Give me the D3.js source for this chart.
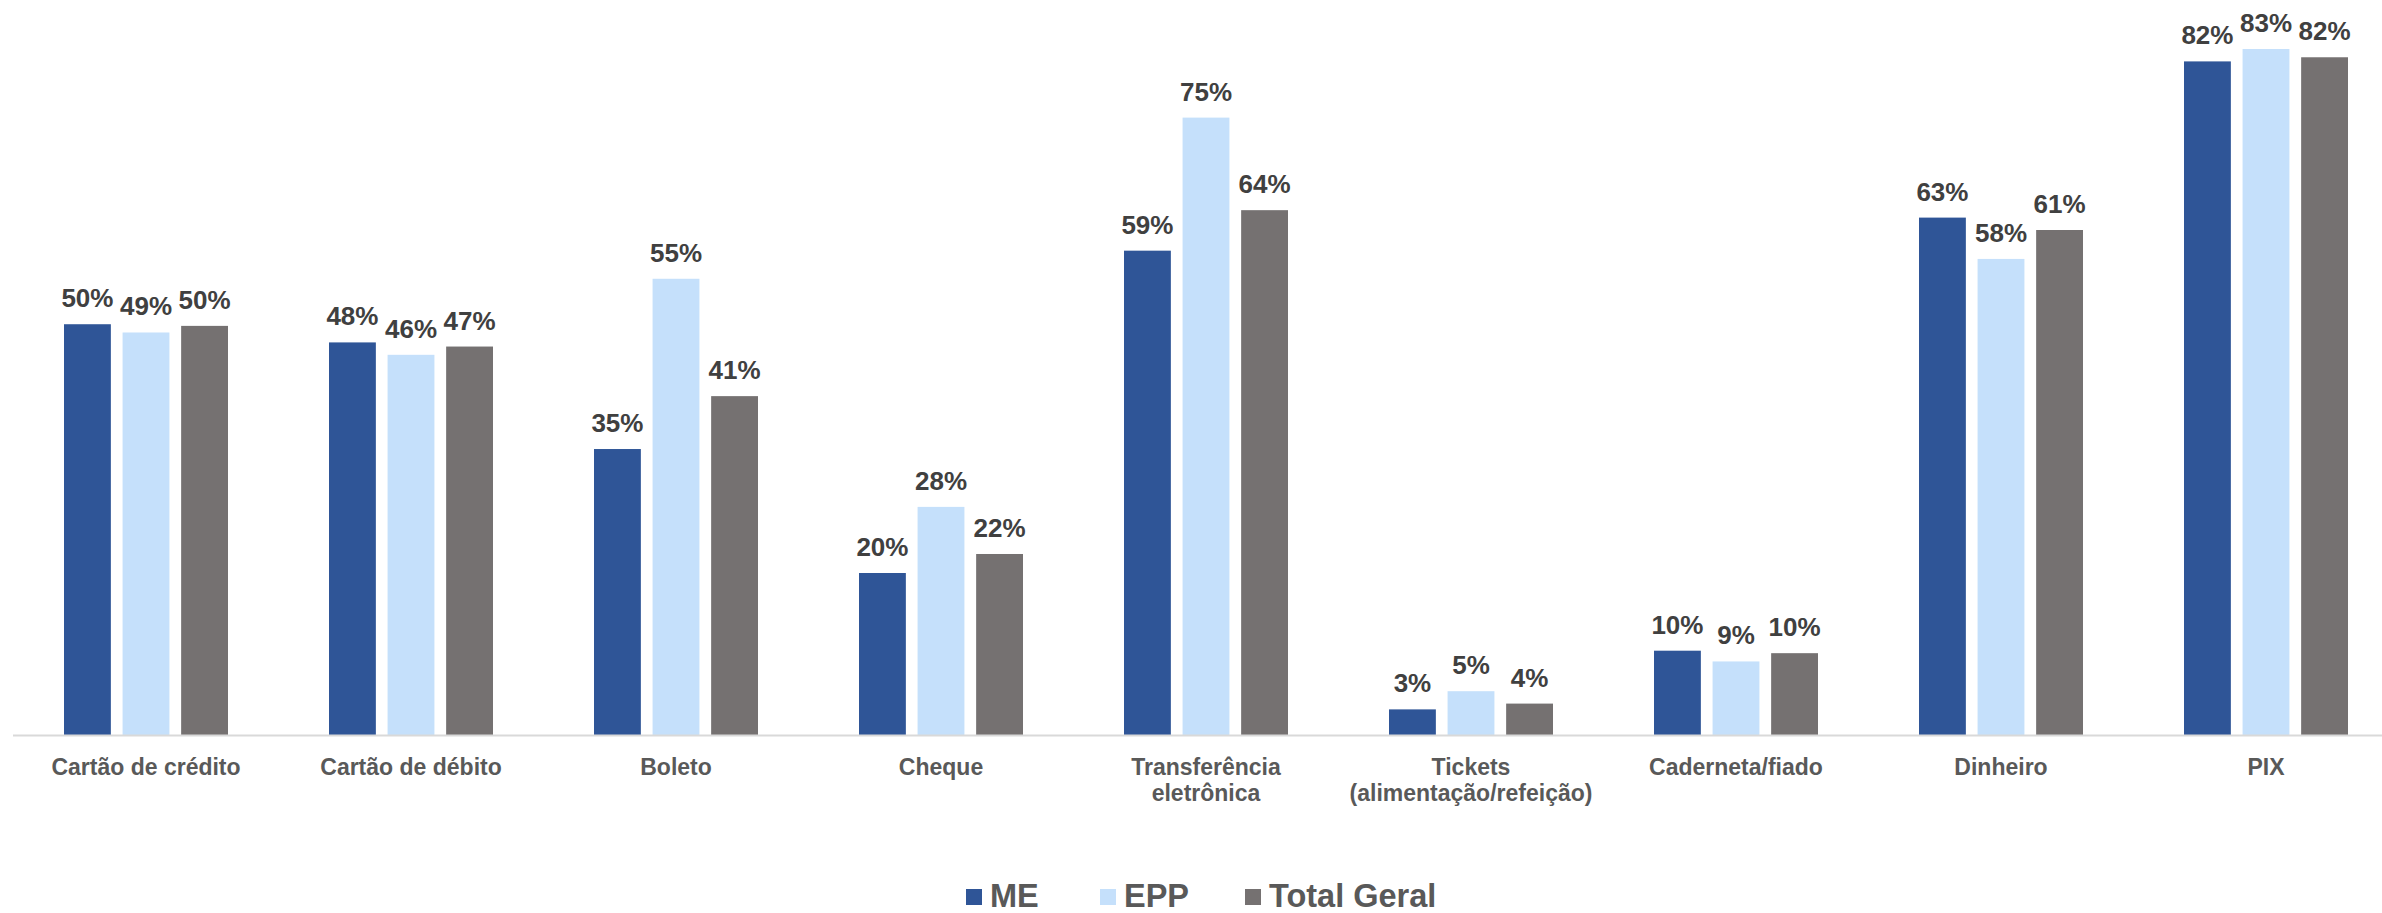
<!DOCTYPE html>
<html>
<head>
<meta charset="utf-8">
<script src="https://cdn.jsdelivr.net/npm/d3@7"></script>
<style>
  body { margin: 0; background: #fff; }
  svg { display: block; font-family: "Liberation Sans", Arial, sans-serif; }
</style>
</head>
<body>
<svg width="2382" height="913"></svg>
<script>
// categories (two-line labels split on "|")
var categories = [
    "Cartão de crédito",
    "Cartão de débito",
    "Boleto",
    "Cheque",
    "Transferência|eletrônica",
    "Tickets|(alimentação/refeição)",
    "Caderneta/fiado",
    "Dinheiro",
    "PIX"
];

var seriesNames = ["ME", "EPP", "Total Geral"];

var meValues = [49.7, 47.5, 34.6, 19.6, 58.6, 3.1, 10.2, 62.6, 81.5];
var eppValues = [48.7, 46.0, 55.2, 27.6, 74.7, 5.3, 8.9, 57.6, 83.0];
var totalValues = [49.5, 47.0, 41.0, 21.9, 63.5, 3.8, 9.9, 61.1, 82.0];

var colors = ["#2f5597", "#c5e0fb", "#757171"];

var svg = d3.select("svg"),
    width = +svg.attr("width"),
    height = +svg.attr("height");

var baseY = 735;

var x = d3.scaleBand()
    .domain(categories)
    .range([13.5, 2398.5])
    .paddingInner(0)
    .paddingOuter(0);

var x1 = d3.scaleBand()
    .domain(seriesNames)
    .range([0, 164])
    .paddingInner(0.2);

var y = d3.scaleLinear()
    .domain([0, 83])
    .range([baseY, 49]);

var series = [meValues, eppValues, totalValues];

var rows = [];
categories.forEach(function(c, i) {
    seriesNames.forEach(function(s, j) {
        rows.push({ cat: c, name: s, value: series[j][i], k: j });
    });
});

function barX(d) {
    var off = (x.bandwidth() - 164) / 2;
    return x(d.cat) + off + x1(d.name);
}

var g = svg.append("g");

g.selectAll(".bar").data(rows)
    .enter().append("rect")
    .attr("class", "bar")
    .attr("x", barX)
    .attr("y", function(d) { return y(d.value); })
    .attr("width", x1.bandwidth())
    .attr("height", function(d) { return baseY - y(d.value); })
    .attr("fill", function(d) { return colors[d.k]; });

// axis line
g.append("line")
    .attr("x1", 13)
    .attr("x2", width)
    .attr("y1", baseY + 0.5)
    .attr("y2", baseY + 0.5)
    .attr("stroke", "#d9d9d9")
    .attr("stroke-width", 2);

// value labels
g.selectAll(".val").data(rows)
    .enter().append("text")
    .attr("class", "val")
    .attr("x", function(d) { return barX(d) + x1.bandwidth() / 2; })
    .attr("y", function(d) { return y(d.value) - 17; })
    .attr("text-anchor", "middle")
    .style("font-size", "26px")
    .style("font-weight", "bold")
    .style("fill", "#404040")
    .text(function(d) { return Math.round(d.value) + "%"; });

// category labels
var catLabel = g.selectAll(".cat").data(categories)
    .enter().append("text")
    .attr("class", "cat")
    .attr("x", function(d) { return x(d) + x.bandwidth() / 2; })
    .attr("y", 775)
    .attr("text-anchor", "middle")
    .style("font-size", "23px")
    .style("font-weight", "bold")
    .style("fill", "#595959");

catLabel.each(function(d) {
    var parts = d.split("|");
    var t = d3.select(this);
    parts.forEach(function(p, i) {
        t.append("tspan")
            .attr("x", x(d) + x.bandwidth() / 2)
            .attr("dy", i === 0 ? 0 : 26)
            .text(p);
    });
});

// legend
var legendX = [966, 1100, 1245];
var legend = svg.selectAll(".legend").data(seriesNames)
    .enter().append("g")
    .attr("class", "legend")
    .attr("transform", function(d, i) { return "translate(" + legendX[i] + ",896)"; });

legend.append("rect")
    .attr("x", 0)
    .attr("y", -7)
    .attr("width", 16)
    .attr("height", 16)
    .attr("fill", function(d, i) { return colors[i]; });

legend.append("text")
    .attr("x", 24)
    .attr("y", 11)
    .style("font-size", "32.5px")
    .style("font-weight", "bold")
    .style("fill", "#595959")
    .text(function(d) { return d; });
</script>
</body>
</html>
